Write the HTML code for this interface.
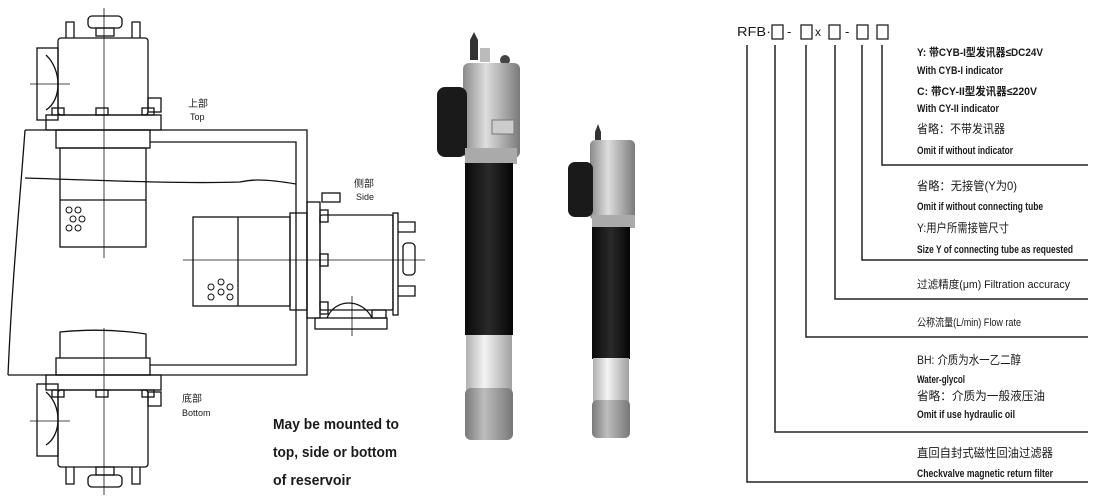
<!DOCTYPE html>
<html><head><meta charset="utf-8"><style>
html,body{margin:0;padding:0;background:#fff;}
svg{display:block}
text{font-family:"Liberation Sans","Noto Sans CJK SC",sans-serif;fill:#1a1a1a}
</style></head><body>
<svg width="1100" height="500" viewBox="0 0 1100 500" xmlns="http://www.w3.org/2000/svg">
<defs>
<linearGradient id="metal" x1="0" x2="1"><stop offset="0" stop-color="#8a8a8a"/><stop offset="0.4" stop-color="#dedede"/><stop offset="1" stop-color="#7a7a7a"/></linearGradient>
<linearGradient id="dark" x1="0" x2="1"><stop offset="0" stop-color="#0a0a0a"/><stop offset="0.5" stop-color="#2a2a2a"/><stop offset="1" stop-color="#050505"/></linearGradient>
<linearGradient id="white" x1="0" x2="1"><stop offset="0" stop-color="#b0b0b0"/><stop offset="0.4" stop-color="#f4f4f4"/><stop offset="1" stop-color="#a0a0a0"/></linearGradient>
<linearGradient id="mesh" x1="0" x2="1"><stop offset="0" stop-color="#7a7a7a"/><stop offset="0.4" stop-color="#bdbdbd"/><stop offset="1" stop-color="#777"/></linearGradient>
</defs>
<g fill="none" stroke="#111" stroke-width="1.3">
<path d="M25 130 H307 V375 H8"/>
<path d="M25 130 C20 200 12 280 8 375"/>
<path d="M150 142 H296 V365 H150"/>
<path d="M25 178 C90 180 180 184 240 182 C250 180 260 178 296 184"/>
<rect x="37" y="48" width="21" height="72"/>
<path d="M46 55 C62 70 62 100 46 110"/>
<rect x="58" y="38" width="90" height="77" rx="3"/>
<rect x="46" y="115" width="115" height="15"/>
<rect x="148" y="98" width="13" height="14"/>
<rect x="88" y="16" width="34" height="12" rx="4"/>
<rect x="96" y="28" width="18" height="8"/>
<path d="M66 38 V22 H74 V38 M132 38 V22 H140 V38"/>
<rect x="52" y="108" width="12" height="7"/><rect x="96" y="108" width="12" height="7"/><rect x="142" y="108" width="12" height="7"/>
<rect x="56" y="130" width="94" height="18"/>
<rect x="60" y="148" width="86" height="99"/>
<line x1="60" y1="200" x2="146" y2="200"/>
<line x1="104" y1="8" x2="104" y2="258" stroke-width="0.8"/>
<line x1="30" y1="84" x2="70" y2="84" stroke-width="0.8"/>
<rect x="193" y="217" width="97" height="89"/>
<line x1="238" y1="217" x2="238" y2="306"/>
<rect x="290" y="213" width="17" height="97"/>
<rect x="307" y="202" width="13" height="116"/>
<rect x="320" y="215" width="73" height="95" rx="2"/>
<rect x="393" y="213" width="5" height="102"/>
<rect x="322" y="193" width="18" height="9"/>
<rect x="320" y="210" width="8" height="12"/><rect x="320" y="254" width="8" height="12"/><rect x="320" y="302" width="8" height="12"/>
<path d="M398 222 H415 V232 H398 M398 286 H415 V296 H398"/>
<rect x="403" y="243" width="12" height="32" rx="4"/>
<rect x="315" y="318" width="72" height="11"/>
<path d="M327 318 C335 298 362 298 372 318"/>
<rect x="372" y="310" width="14" height="8"/>
<line x1="183" y1="260" x2="425" y2="260" stroke-width="0.8"/>
<line x1="352" y1="296" x2="352" y2="336" stroke-width="0.8"/>
<path d="M60 358 V332 C90 329 120 330 146 334 V358"/>
<rect x="56" y="358" width="94" height="17"/>
<rect x="46" y="375" width="115" height="15"/>
<rect x="52" y="390" width="12" height="7"/><rect x="96" y="390" width="12" height="7"/><rect x="142" y="390" width="12" height="7"/>
<rect x="148" y="392" width="13" height="14"/>
<rect x="37" y="384" width="21" height="72"/>
<path d="M46 392 C62 405 62 435 46 445"/>
<rect x="58" y="390" width="90" height="77" rx="3"/>
<path d="M66 467 V484 H74 V467 M132 467 V484 H140 V467"/>
<rect x="96" y="467" width="18" height="8"/>
<rect x="88" y="475" width="34" height="12" rx="4"/>
<line x1="104" y1="328" x2="104" y2="495" stroke-width="0.8"/>
<line x1="30" y1="421" x2="70" y2="421" stroke-width="0.8"/>
</g>
<g fill="none" stroke="#111" stroke-width="1">
<circle cx="69" cy="210" r="3"/><circle cx="78" cy="210" r="3"/><circle cx="73" cy="219" r="3"/><circle cx="82" cy="219" r="3"/><circle cx="69" cy="228" r="3"/><circle cx="78" cy="228" r="3"/>
<circle cx="211" cy="287" r="3"/><circle cx="221" cy="282" r="3"/><circle cx="230" cy="287" r="3"/><circle cx="221" cy="292" r="3"/><circle cx="211" cy="297" r="3"/><circle cx="230" cy="297" r="3"/>
</g>
<text x="188" y="107" font-size="10">上部</text><text x="190" y="120" font-size="9">Top</text>
<text x="354" y="187" font-size="10">侧部</text><text x="356" y="200" font-size="9">Side</text>
<text x="182" y="402" font-size="10">底部</text><text x="182" y="416" font-size="9">Bottom</text>
<text x="273" y="429" font-size="15" font-weight="bold" textLength="126" lengthAdjust="spacingAndGlyphs">May be mounted to</text>
<text x="273" y="457" font-size="15" font-weight="bold" textLength="124" lengthAdjust="spacingAndGlyphs">top, side or bottom</text>
<text x="273" y="485" font-size="15" font-weight="bold" textLength="78" lengthAdjust="spacingAndGlyphs">of reservoir</text>

<path d="M470 40 L474 32 L478 40 V60 H470 Z" fill="#333"/>
<rect x="480" y="48" width="10" height="14" fill="#bbb"/>
<circle cx="505" cy="60" r="5" fill="#444"/>
<rect x="463" y="63" width="57" height="95" rx="6" fill="url(#metal)"/>
<rect x="437" y="87" width="30" height="70" rx="8" fill="#1a1a1a"/>
<rect x="492" y="120" width="22" height="14" fill="#ccc" stroke="#777"/>
<rect x="465" y="148" width="52" height="16" fill="#aaa"/>
<rect x="465" y="163" width="48" height="172" fill="url(#dark)"/>
<rect x="466" y="335" width="46" height="55" fill="url(#white)"/>
<rect x="465" y="388" width="48" height="52" rx="6" fill="url(#mesh)"/>
<path d="M595 132 L598 124 L601 132 V145 H595 Z" fill="#333"/>
<circle cx="622" cy="147" r="4" fill="#444"/>
<rect x="590" y="140" width="45" height="80" rx="5" fill="url(#metal)"/>
<rect x="568" y="162" width="25" height="55" rx="7" fill="#1a1a1a"/>
<rect x="592" y="215" width="43" height="13" fill="#aaa"/>
<rect x="592" y="227" width="38" height="132" fill="url(#dark)"/>
<rect x="593" y="358" width="36" height="44" fill="url(#white)"/>
<rect x="592" y="400" width="38" height="38" rx="5" fill="url(#mesh)"/>

<text x="737" y="36" font-size="13" textLength="34" lengthAdjust="spacingAndGlyphs">RFB·</text>
<g fill="none" stroke="#222" stroke-width="1.3">
<rect x="772" y="25" width="11" height="14"/><rect x="801" y="25" width="11" height="14"/><rect x="829" y="25" width="11" height="14"/><rect x="857" y="25" width="11" height="14"/><rect x="877" y="25" width="11" height="14"/>
</g>
<text x="787" y="36" font-size="13">-</text><text x="815" y="36" font-size="12">x</text><text x="845" y="36" font-size="13">-</text>
<g fill="none" stroke="#222" stroke-width="1.5">
<path d="M747 45 V482 H1088"/>
<path d="M775 45 V432 H1088"/>
<path d="M806 45 V337 H1088"/>
<path d="M835 45 V299 H1088"/>
<path d="M862 45 V260 H1088"/>
<path d="M882 45 V165 H1088"/>
</g>
<g font-size="11" font-weight="bold">
<text x="917" y="56" textLength="126" lengthAdjust="spacingAndGlyphs">Y: 带CYB-I型发讯器≤DC24V</text>
<text x="917" y="74" textLength="86" lengthAdjust="spacingAndGlyphs">With CYB-I indicator</text>
<text x="917" y="95" textLength="120" lengthAdjust="spacingAndGlyphs">C: 带CY-II型发讯器≤220V</text>
<text x="917" y="112" textLength="82" lengthAdjust="spacingAndGlyphs">With CY-II indicator</text>
<text x="917" y="133" font-size="12" font-weight="normal" textLength="88" lengthAdjust="spacingAndGlyphs">省略：不带发讯器</text>
<text x="917" y="154" textLength="96" lengthAdjust="spacingAndGlyphs">Omit if without indicator</text>
<text x="917" y="190" font-size="12" font-weight="normal" textLength="100" lengthAdjust="spacingAndGlyphs">省略：无接管(Y为0)</text>
<text x="917" y="210" textLength="126" lengthAdjust="spacingAndGlyphs">Omit if without connecting tube</text>
<text x="917" y="232" font-size="12" font-weight="normal" textLength="92" lengthAdjust="spacingAndGlyphs">Y:用户所需接管尺寸</text>
<text x="917" y="253" textLength="156" lengthAdjust="spacingAndGlyphs">Size Y of connecting tube as requested</text>
<text x="917" y="288" font-weight="normal" textLength="153" lengthAdjust="spacingAndGlyphs">过滤精度(μm) Filtration accuracy</text>
<text x="917" y="326" font-weight="normal" textLength="104" lengthAdjust="spacingAndGlyphs">公称流量(L/min) Flow rate</text>
<text x="917" y="364" font-size="12" font-weight="normal" textLength="104" lengthAdjust="spacingAndGlyphs">BH: 介质为水一乙二醇</text>
<text x="917" y="383" textLength="48" lengthAdjust="spacingAndGlyphs">Water-glycol</text>
<text x="917" y="400" font-size="12" font-weight="normal" textLength="128" lengthAdjust="spacingAndGlyphs">省略：介质为一般液压油</text>
<text x="917" y="418" textLength="98" lengthAdjust="spacingAndGlyphs">Omit if use hydraulic oil</text>
<text x="917" y="457" font-size="12" font-weight="normal" textLength="136" lengthAdjust="spacingAndGlyphs">直回自封式磁性回油过滤器</text>
<text x="917" y="477" textLength="136" lengthAdjust="spacingAndGlyphs">Checkvalve magnetic return  filter</text>
</g>
</svg>
</body></html>
